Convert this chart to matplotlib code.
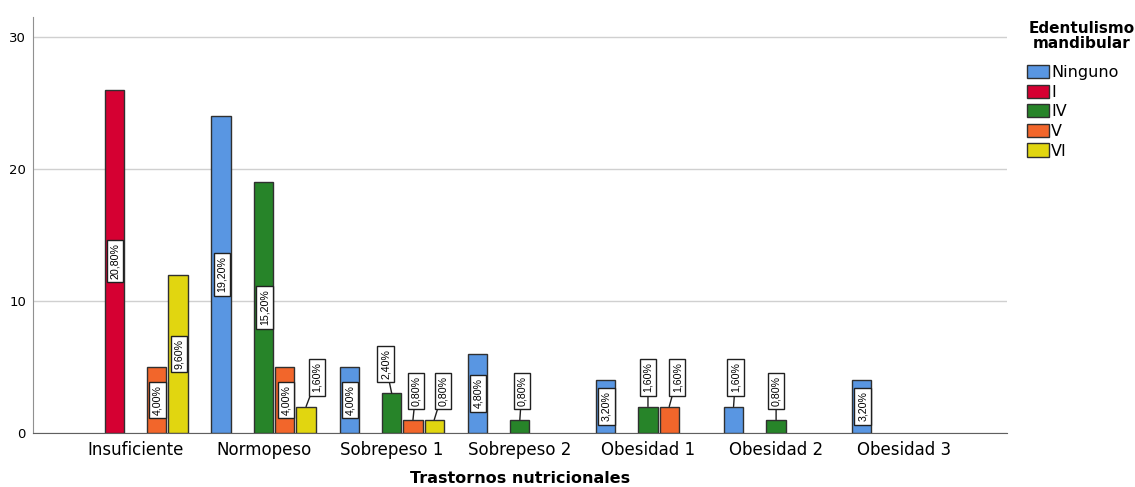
import matplotlib.pyplot as plt
from matplotlib.patches import Patch
import numpy as np

categorias = ['Insuficiente', 'Normopeso', 'Sobrepeso 1', 'Sobrepeso 2',
              'Obesidad 1', 'Obesidad 2', 'Obesidad 3']
series = ['Ninguno', 'I', 'IV', 'V', 'VI']
ninguno = [0, 24, 5, 6, 4, 2, 4]
grado_i = [26, 0, 0, 0, 0, 0, 0]
grado_iv = [0, 19, 3, 1, 2, 1, 0]
grado_v = [5, 5, 1, 0, 2, 0, 0]
grado_vi = [12, 2, 1, 0, 0, 0, 0]
total = 125

colores = ['#5996e2', '#d50032', '#278429', '#f2662b', '#e1d610']
valores = [ninguno, grado_i, grado_iv, grado_v, grado_vi]

# pequeños desplazamientos horizontales (px) de las etiquetas sobre barras bajas
nudge = {(4, 1): 11, (2, 2): -6, (3, 2): 3, (4, 2): 9, (2, 3): 2,
         (3, 4): 8, (0, 5): 2}

plt.rcParams['font.family'] = ['DejaVu Sans']
fig = plt.figure(figsize=(11.35, 4.87), dpi=100)
ax = fig.add_axes([0.029, 0.111, 0.858, 0.854])

x = np.arange(len(categorias))
paso = 0.166
ancho = 0.15
for s in range(len(series)):
    for c in range(len(categorias)):
        v = valores[s][c]
        if v == 0:
            continue
        xb = x[c] + (s - 2) * paso
        ax.bar(xb, v, width=ancho, color=colores[s], edgecolor='#303030',
               linewidth=1, zorder=3)
        txt = f"{v / total * 100:.2f}%".replace('.', ',')
        caja = dict(boxstyle='square,pad=0.3', fc='white', ec='#202020', lw=1)
        fuente = dict(family=['Liberation Sans', 'DejaVu Sans'], size=7.7)
        if v >= 4:
            ax.annotate(txt, (xb, v / 2), xytext=(1, 0), textcoords='offset pixels',
                        rotation=90, ha='center', va='center', bbox=caja,
                        zorder=5, **fuente)
        else:
            ax.annotate(txt, (xb, v), xytext=(nudge.get((s, c), 0), 29),
                        textcoords='offset pixels', rotation=90, ha='center',
                        va='center', bbox=caja, zorder=5,
                        arrowprops=dict(arrowstyle='-', color='#202020', lw=1,
                                        shrinkA=0, shrinkB=0), **fuente)

ax.set_xlim(-0.8, 6.8)
ax.set_ylim(0, 31.5)
ax.set_yticks([0, 10, 20, 30])
ax.set_xticks(x)
ax.set_xticklabels(categorias, fontsize=12)
ax.tick_params(axis='y', labelsize=9.5, length=0, pad=5)
ax.tick_params(axis='x', length=0, pad=6)
ax.grid(axis='y', color='#d0d0d0', lw=1, zorder=0)
ax.spines['top'].set_visible(False)
ax.spines['right'].set_visible(False)
ax.spines['left'].set_color('#909090')
ax.spines['bottom'].set_color('#606060')
ax.set_xlabel('Trastornos nutricionales', fontsize=11.5, fontweight='bold', labelpad=8.5)

fig.text(1082 / 1135, 1 - 36 / 487, 'Edentulismo\nmandibular', ha='center',
         va='center', fontsize=11, fontweight='bold', linespacing=1.0)
handles = [Patch(facecolor=colores[i], edgecolor='#303030', lw=1) for i in range(len(series))]
leg = fig.legend(handles, series, loc='upper left',
                 bbox_to_anchor=(1027 / 1135, 1 - 65 / 487), frameon=False,
                 fontsize=11.5, handlelength=1.4, handleheight=0.9,
                 handletextpad=0.1, labelspacing=0.28, borderaxespad=0,
                 borderpad=0)

fig.savefig('out.png', dpi=100)
